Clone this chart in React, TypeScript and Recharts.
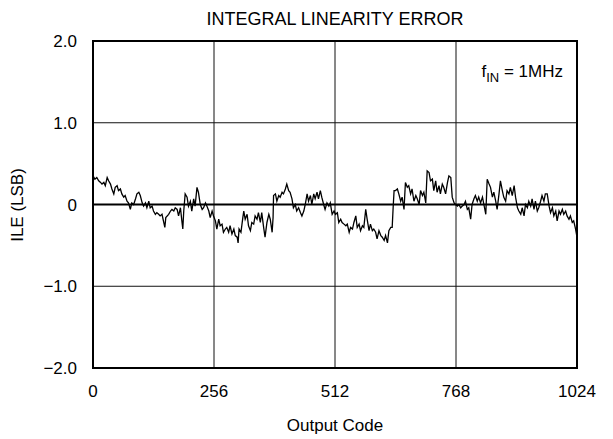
import { LineChart, Line, XAxis, YAxis, CartesianGrid, ReferenceLine, ReferenceArea, Customized } from "recharts";

const codes = [
  0, 4, 8, 12, 16, 19, 23, 26, 30, 33, 37, 40, 44, 47, 51, 54, 58, 61, 65, 68,
  72, 75, 79, 82, 86, 90, 93, 97, 100, 104, 107, 111, 114, 118, 121, 125, 128, 132, 135, 139,
  142, 146, 149, 152, 154, 160, 164, 167, 171, 174, 178, 181, 185, 188, 190, 192, 195, 199, 202, 206,
  209, 213, 216, 220, 223, 227, 231, 234, 238, 241, 245, 248, 252, 255, 259, 262, 266, 269, 273, 276,
  280, 283, 287, 290, 294, 298, 301, 305, 307, 309, 313, 317, 319, 322, 326, 329, 333, 336, 340, 343,
  347, 350, 354, 357, 361, 364, 368, 372, 375, 379, 381, 382, 386, 389, 393, 396, 400, 403, 407, 410,
  414, 417, 421, 424, 428, 431, 435, 439, 442, 446, 449, 453, 456, 460, 463, 467, 470, 474, 477, 481,
  484, 488, 491, 495, 499, 502, 506, 510, 513, 517, 520, 524, 527, 531, 535, 538, 542, 545, 549, 552,
  556, 559, 563, 566, 570, 573, 577, 580, 584, 587, 591, 594, 598, 601, 605, 609, 612, 616, 619, 623,
  626, 630, 633, 635, 637, 640, 644, 647, 651, 654, 658, 661, 665, 668, 672, 675, 679, 683, 686, 690,
  693, 697, 700, 704, 707, 711, 714, 718, 721, 725, 728, 732, 735, 739, 742, 746, 750, 753, 757, 760,
  764, 767, 771, 774, 778, 781, 785, 788, 792, 795, 799, 802, 806, 809, 813, 816, 820, 824, 827, 831,
  834, 838, 841, 845, 848, 852, 855, 859, 862, 866, 869, 873, 876, 880, 883, 887, 891, 894, 898, 901,
  905, 908, 912, 915, 919, 922, 926, 929, 933, 936, 940, 943, 947, 950, 954, 957, 961, 965, 968, 972,
  975, 979, 982, 986, 989, 993, 996, 1000, 1003, 1007, 1010, 1014, 1017, 1021, 1024,
];

const ile = [
  0.35, 0.31, 0.33, 0.29, 0.27, 0.25, 0.27, 0.23, 0.33, 0.29, 0.25, 0.19, 0.13, 0.21, 0.23, 0.17, 0.19, 0.13, 0.09, 0.11,
  0.04, 0.02, -0.06, 0.02, 0, 0.07, 0.13, 0.15, 0.11, 0.02, -0.02, 0.02, -0.04, 0.04, -0.04, -0.02, -0.08, -0.12, -0.1, -0.12,
  -0.14, -0.12, -0.2, -0.28, -0.16, -0.12, -0.08, -0.06, -0.08, -0.04, -0.06, -0.14, -0.04, -0.2, -0.3, -0.08, 0.13, 0.09, -0.02, 0.04,
  -0.08, 0.07, -0.02, 0.21, 0.15, 0, -0.06, -0.04, 0.02, -0.02, -0.08, -0.16, -0.08, -0.14, -0.2, -0.3, -0.18, -0.26, -0.24, -0.34,
  -0.3, -0.28, -0.34, -0.26, -0.36, -0.3, -0.38, -0.4, -0.47, -0.3, -0.34, -0.16, -0.08, -0.18, -0.12, -0.26, -0.32, -0.22, -0.24, -0.14,
  -0.18, -0.1, -0.22, -0.1, -0.28, -0.4, -0.22, -0.12, -0.18, -0.34, -0.16, 0.11, 0.13, 0.04, 0.11, 0.09, 0.15, 0.13, 0.19, 0.25,
  0.17, 0.15, 0.07, -0.04, 0, -0.08, -0.04, -0.1, -0.14, -0.08, 0, 0.13, 0.04, 0.11, 0, 0.13, 0.07, 0.15, 0.07, 0.17,
  0.09, 0, -0.06, 0.02, -0.02, 0.02, -0.12, -0.08, -0.12, -0.1, -0.22, -0.18, -0.22, -0.24, -0.26, -0.24, -0.34, -0.28, -0.3, -0.22,
  -0.14, -0.28, -0.24, -0.32, -0.26, -0.28, -0.06, -0.18, -0.32, -0.24, -0.32, -0.3, -0.34, -0.42, -0.32, -0.38, -0.4, -0.44, -0.38, -0.47,
  -0.32, -0.28, -0.28, -0.04, 0.17, 0.17, 0.19, 0.13, 0.04, 0.09, -0.06, 0.27, 0.21, 0.23, 0.13, 0.19, 0.04, 0.11, 0.07, 0,
  0.17, 0.11, 0.15, 0.02, 0.41, 0.39, 0.29, 0.31, 0.17, 0.29, 0.15, 0.23, 0.13, 0.25, 0.21, 0.13, 0.27, 0.35, 0.33, 0.09,
  0.02, 0, -0.02, 0, -0.04, -0.02, 0, 0.04, -0.06, -0.04, -0.18, 0, 0.07, 0.11, 0.04, 0.09, 0.02, 0.09, 0, -0.12,
  0.31, 0.25, 0.21, 0.09, 0.15, 0.04, -0.06, 0.13, 0.29, 0.17, 0.09, 0.04, 0.17, 0.13, 0.21, 0.11, 0.23, 0.09, -0.04, -0.08,
  -0.12, -0.04, -0.14, 0, -0.04, 0.04, -0.02, 0.07, -0.06, 0.04, -0.08, -0.04, 0.04, 0.11, 0.04, 0.13, 0.13, -0.02, -0.1, -0.04,
  -0.14, -0.08, -0.2, -0.08, -0.12, -0.06, -0.12, -0.08, -0.14, -0.18, -0.14, -0.22, -0.2, -0.3, -0.4,
];

const xTicks = [0, 256, 512, 768, 1024];
const yTicks = [-2, -1, 0, 1, 2];
const yTickLabels = ["\u22122.0", "\u22121.0", "0", "1.0", "2.0"];

const data = codes.map((c, i) => ({ code: c, ile: ile[i] }));

const FONT = "'Liberation Sans', Arial, Helvetica, sans-serif";

// title and the f_IN note
function Notes() {
  return (
    <g fontFamily={FONT} fill="#000">
      <text x={335} y={25} fontSize={18} textAnchor="middle">INTEGRAL LINEARITY ERROR</text>
      <text x={563} y={77} fontSize={17} textAnchor="end">
        f<tspan fontSize={13} dy={5}>IN</tspan>
        <tspan dy={-5}> = 1MHz</tspan>
      </text>
    </g>
  );
}

export default function App() {
  return (
    <div style={{ position: "absolute", left: 0, top: 0, width: 613, height: 439, background: "#fff" }}>
      <LineChart width={613} height={439} data={data} margin={{ top: 41, right: 36, left: 0, bottom: 0 }}>
        <CartesianGrid stroke="#111" strokeWidth={1} />
        <XAxis
          dataKey="code"
          type="number"
          domain={[0, 1024]}
          ticks={xTicks}
          height={71}
          axisLine={false}
          tickLine={false}
          tickSize={0}
          tickMargin={17}
          tick={{ fill: "#000", fontSize: 17, fontFamily: FONT }}
          label={{ value: "Output Code", position: "insideBottom", offset: 8, fill: "#000", fontSize: 17, fontFamily: FONT }}
        />
        <YAxis
          type="number"
          domain={[-2, 2]}
          ticks={yTicks}
          width={93}
          axisLine={false}
          tickLine={false}
          tickSize={0}
          tickMargin={16}
          tickFormatter={(v: number) => yTickLabels[yTicks.indexOf(v)]}
          tick={{ fill: "#000", fontSize: 17, fontFamily: FONT }}
          label={{
            content: () => (
              <text x={17} y={205} transform="rotate(-90 17 205)" textAnchor="middle" dominantBaseline="central" fill="#000" fontSize={17} fontFamily={FONT}>
                ILE (LSB)
              </text>
            ),
          }}
        />
        <ReferenceLine y={0} stroke="#000" strokeWidth={2} />
        <ReferenceArea x1={0} x2={1024} y1={-2} y2={2} fill="none" stroke="#000" strokeWidth={2} />
        <Line type="linear" dataKey="ile" stroke="#000" strokeWidth={1.3} dot={false} isAnimationActive={false} />
        <Customized component={Notes} />
      </LineChart>
    </div>
  );
}
